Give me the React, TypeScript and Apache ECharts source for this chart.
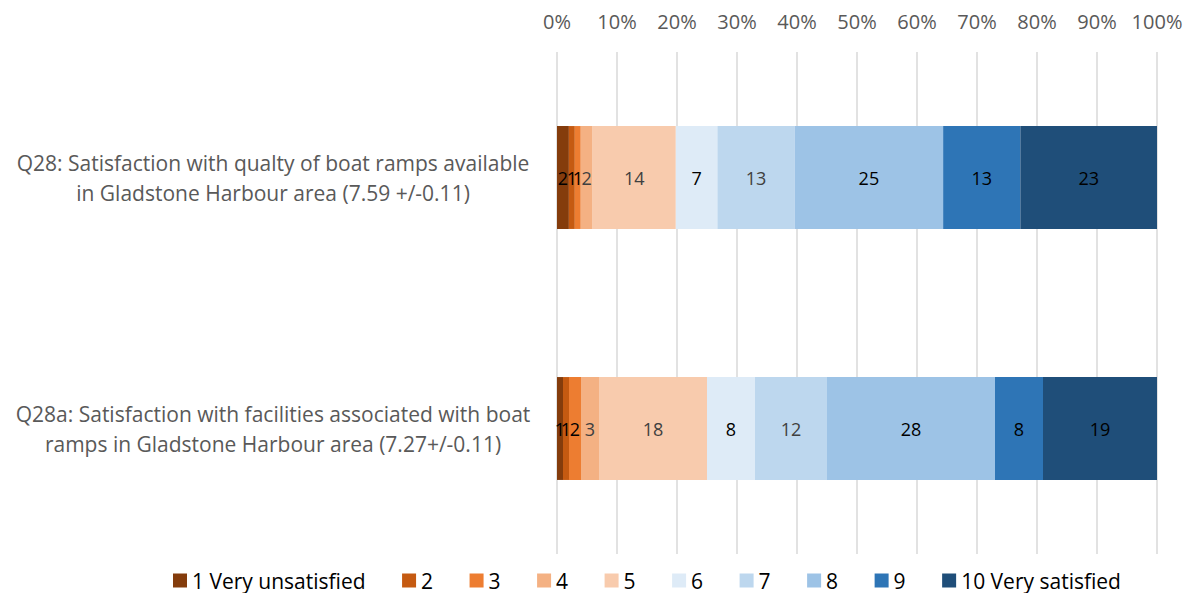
import React, { useEffect, useRef } from "react";
import * as echarts from "echarts";

// Survey items (top to bottom)
const questions = [
  "Q28: Satisfaction with qualty of boat ramps available\nin Gladstone Harbour area (7.59 +/-0.11)",
  "Q28a: Satisfaction with facilities associated with boat\nramps in Gladstone Harbour area (7.27+/-0.11)",
];

// Rating scale names
const ratings = [
  "1 Very unsatisfied",
  "2",
  "3",
  "4",
  "5",
  "6",
  "7",
  "8",
  "9",
  "10 Very satisfied",
];

// Percentage of respondents per rating, one array per question
const q28Values = [2, 1, 1, 2, 14, 7, 13, 25, 13, 23];
const q28aValues = [1, 1, 2, 3, 18, 8, 12, 28, 8, 19];

const ratingColors = [
  "#843c0c",
  "#c55a11",
  "#ed7d31",
  "#f4b183",
  "#f8cbad",
  "#deebf7",
  "#bdd7ee",
  "#9dc3e6",
  "#2e75b6",
  "#1f4e79",
];

const labelColors = [
  "#000000",
  "#000000",
  "#000000",
  "#404040",
  "#404040",
  "#000000",
  "#404040",
  "#000000",
  "#000000",
  "#000000",
];

const tickValues = [0, 10, 20, 30, 40, 50, 60, 70, 80, 90, 100];

const FONT = "'Open Sans', 'DejaVu Sans', sans-serif";

export default function App() {
  const ref = useRef<HTMLDivElement>(null);

  useEffect(() => {
    if (!ref.current) return;
    const chart = echarts.init(ref.current, null, { renderer: "svg" });

    const rows = [q28Values, q28aValues];
    const totals = rows.map((r) => r.reduce((a, b) => a + b, 0));

    const series = ratings.map((name, i) => ({
      name,
      type: "bar" as const,
      stack: "total",
      barWidth: "41%",
      itemStyle: { color: ratingColors[i] },
      label: {
        show: true,
        position: "inside" as const,
        color: labelColors[i],
        fontSize: 18,
        fontFamily: FONT,
        formatter: (p: any) => String(rows[p.dataIndex][i]),
      },
      emphasis: { disabled: true },
      data: rows.map((r, k) => (r[i] / totals[k]) * 100),
    }));

    chart.setOption({
      animation: false,
      textStyle: { fontFamily: FONT },
      grid: { left: 557, right: 35, top: 52, bottom: 47, containLabel: false },
      legend: {
        bottom: 5,
        left: 168,
        itemWidth: 14,
        itemHeight: 14,
        itemGap: 36.5,
        icon: "rect",
        textStyle: { fontSize: 21, color: "#000000", fontFamily: FONT },
        data: ratings,
      },
      xAxis: {
        type: "value",
        position: "top",
        min: tickValues[0],
        max: tickValues[tickValues.length - 1],
        interval: tickValues[1] - tickValues[0],
        axisLine: { show: false },
        axisTick: { show: false },
        axisLabel: {
          formatter: "{value}%",
          color: "#595959",
          fontSize: 20,
          margin: 21,
          fontFamily: FONT,
        },
        splitLine: { show: true, lineStyle: { color: "#d9d9d9", width: 1.5 } },
      },
      yAxis: {
        type: "category",
        inverse: true,
        data: questions,
        axisLine: { show: false },
        axisTick: { show: false },
        axisLabel: {
          margin: 22,
          align: "right",
          formatter: (v: string) => `{q|${v}}`,
          rich: {
            q: {
              width: 524,
              align: "center",
              color: "#595959",
              fontSize: 21,
              lineHeight: 30,
              fontFamily: FONT,
            },
          },
        },
      },
      series,
    });

    return () => chart.dispose();
  }, []);

  return <div ref={ref} style={{ width: 1192, height: 601, margin: -8 }} />;
}
